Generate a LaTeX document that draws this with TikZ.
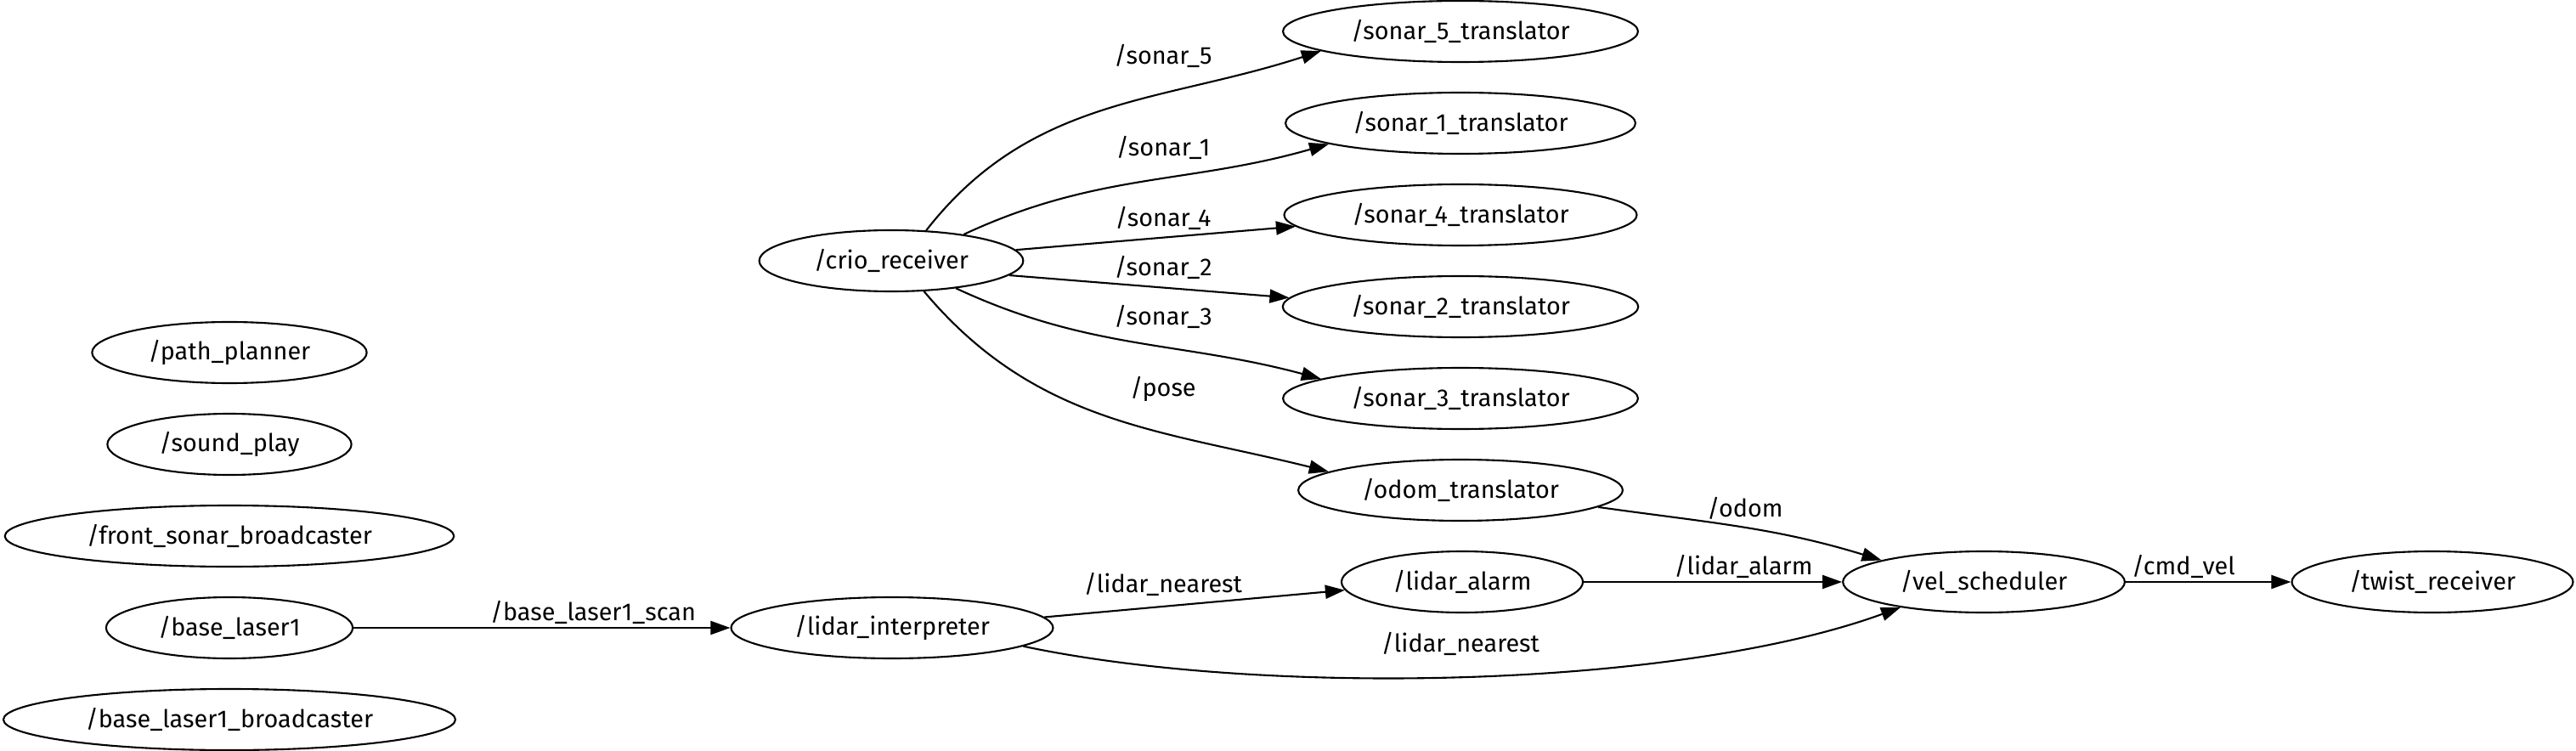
\documentclass[tikz,border=0pt]{standalone}
\usepackage{fontspec}
\setmainfont{Fira Sans}
\usepackage{tikz}
\usetikzlibrary{shapes.geometric, arrows.meta, positioning}

\begin{document}
\begin{tikzpicture}[
    rosnode/.style={draw, ellipse, line width=0.6pt, inner xsep=0.19cm, inner ysep=1pt, minimum height=0.72cm, font=\fontsize{8.2pt}{9pt}\selectfont},
    topic/.style={inner sep=1pt, font=\fontsize{8.2pt}{9pt}\selectfont},
    msg/.style={line width=0.6pt, -{Triangle[length=2.3mm, width=1.6mm]}}
  ]
  \useasboundingbox (0,0) rectangle (30.32,-8.84);

  % Nodes - left column (no connections)
  \node[rosnode] (pathplanner) at (2.70,-4.15) {/path\_planner};
  \node[rosnode] (soundplay) at (2.70,-5.23) {/sound\_play};
  \node[rosnode] (frontsonar) at (2.70,-6.31) {/front\_sonar\_broadcaster};
  \node[rosnode] (baselaser) at (2.70,-7.39) {/base\_laser1};
  \node[rosnode] (baselaserbc) at (2.70,-8.47) {/base\_laser1\_broadcaster};

  % Receivers
  \node[rosnode] (crio) at (10.49,-3.07) {/crio\_receiver};
  \node[rosnode] (lidarint) at (10.50,-7.39) {/lidar\_interpreter};

  % Translators
  \node[rosnode] (sonar5) at (17.19,-0.37) {/sonar\_5\_translator};
  \node[rosnode] (sonar1) at (17.19,-1.45) {/sonar\_1\_translator};
  \node[rosnode] (sonar4) at (17.19,-2.53) {/sonar\_4\_translator};
  \node[rosnode] (sonar2) at (17.19,-3.61) {/sonar\_2\_translator};
  \node[rosnode] (sonar3) at (17.19,-4.69) {/sonar\_3\_translator};
  \node[rosnode] (odomtr) at (17.19,-5.77) {/odom\_translator};
  \node[rosnode] (lidaralarm) at (17.21,-6.85) {/lidar\_alarm};

  % Output side
  \node[rosnode] (velsched) at (23.35,-6.85) {/vel\_scheduler};
  \node[rosnode] (twist) at (28.63,-6.85) {/twist\_receiver};

  % Topics
  \draw[msg] (crio.41) to[out=52, in=198] (sonar5.188);
  \draw[msg] (crio.20) to[out=25, in=196] (sonar1.189);
  \draw[msg] (crio.5) -- (sonar4.184);
  \draw[msg] (crio.-7) -- (sonar2.177);
  \draw[msg] (crio.-23) to[out=-25, in=165] (sonar3.172);
  \draw[msg] (crio.-43) to[out=-50, in=166] (odomtr.172);
  \draw[msg] (odomtr.-7) to[out=-8, in=163] (velsched.168);
  \draw[msg] (baselaser) -- (lidarint);
  \draw[msg] (lidarint.4) -- (lidaralarm.184);
  \draw[msg] (lidarint.-8) to[out=-12, in=200, looseness=0.7] (velsched.197);
  \draw[msg] (lidaralarm) -- (velsched);
  \draw[msg] (velsched) -- (twist);

  % Topic labels
  \node[topic] (tsonar5) at (13.69,-0.66) {/sonar\_5};
  \node[topic] (tsonar1) at (13.69,-1.74) {/sonar\_1};
  \node[topic] (tsonar4) at (13.69,-2.57) {/sonar\_4};
  \node[topic] (tsonar2) at (13.69,-3.15) {/sonar\_2};
  \node[topic] (tsonar3) at (13.69,-3.73) {/sonar\_3};
  \node[topic] (tpose) at (13.69,-4.58) {/pose};
  \node[topic] (todom) at (20.54,-5.98) {/odom};
  \node[topic] (tlidaralarm) at (20.52,-6.67) {/lidar\_alarm};
  \node[topic] (tcmdvel) at (25.70,-6.67) {/cmd\_vel};
  \node[topic] (tnearest1) at (13.69,-6.88) {/lidar\_nearest};
  \node[topic] (tnearest2) at (17.19,-7.58) {/lidar\_nearest};
  \node[topic] (tscan) at (6.98,-7.21) {/base\_laser1\_scan};
\end{tikzpicture}
\end{document}
